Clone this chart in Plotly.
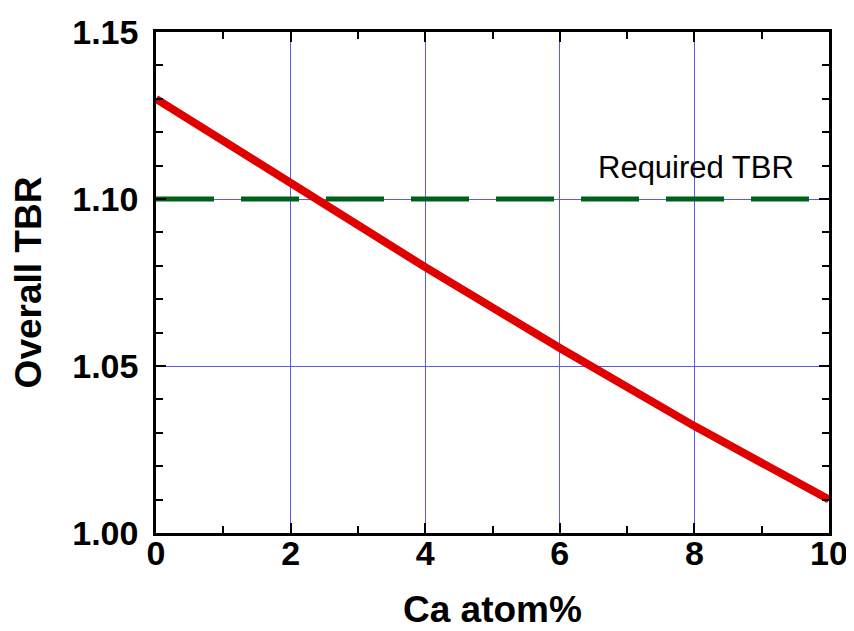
import plotly.graph_objects as go

ca_atom = [0, 2, 4, 6, 8, 10]
overall_tbr = [1.130, 1.1045, 1.0796, 1.0554, 1.032, 1.010]

required_x = [0, 10]
required_tbr = [1.10, 1.10]

x_ticks = [0, 2, 4, 6, 8, 10]
y_ticks = [1.00, 1.05, 1.10, 1.15]

FONT = "Arial, Liberation Sans, sans-serif"

fig = go.Figure()
fig.add_trace(go.Scatter(
    x=required_x, y=required_tbr, mode="lines",
    line=dict(color="#00601a", width=5, dash="58px,27px"),
    showlegend=False, hoverinfo="skip"))
fig.add_trace(go.Scatter(
    x=ca_atom, y=overall_tbr, mode="lines",
    line=dict(color="#e00000", width=8),
    showlegend=False, cliponaxis=False))

fig.add_annotation(x=8.02, y=1.1093, text="Required TBR", showarrow=False,
                   font=dict(family=FONT, size=31, color="black"),
                   xanchor="center", yanchor="middle")

axis_common = dict(
    showline=True, linecolor="black", linewidth=2.5, mirror="ticks",
    ticks="inside", ticklen=10, tickwidth=2, tickcolor="black",
    showgrid=True, gridcolor="#5a5af0", gridwidth=1,
    zeroline=False, automargin=False, ticklabeloverflow="allow",
    tickfont=dict(family=FONT, size=34, color="black", weight="bold"),
)

fig.update_xaxes(
    range=[0, 10], tickvals=x_ticks, ticktext=[str(v) for v in x_ticks],
    minor=dict(ticks="inside", ticklen=7, tickwidth=2, tickcolor="black", dtick=1, showgrid=False),
    title=dict(text="<b>Ca atom%</b>", font=dict(family=FONT, size=37, color="black"), standoff=26),
    ticklabelstandoff=-12,
    **axis_common)
fig.update_yaxes(
    range=[1.0, 1.15], tickvals=y_ticks, ticktext=[f"{v:.2f}" for v in y_ticks],
    minor=dict(ticks="inside", ticklen=7, tickwidth=2, tickcolor="black", dtick=0.01, tick0=1.0, showgrid=False),
    title=dict(text="<b>Overall TBR</b>", font=dict(family=FONT, size=37, color="black"), standoff=20),
    ticklabelstandoff=8,
    **axis_common)

fig.update_layout(
    width=846, height=623,
    margin=dict(l=148, r=25, t=24, b=98),
    plot_bgcolor="white", paper_bgcolor="white",
)

fig.write_html("out.html")
